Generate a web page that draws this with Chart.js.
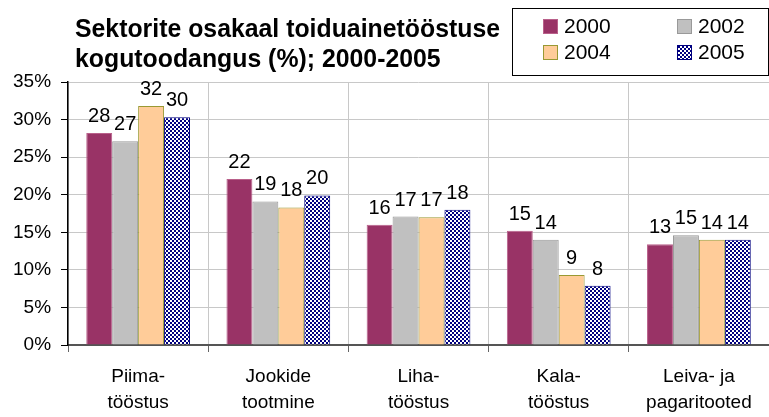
<!DOCTYPE html>
<html>
<head>
<meta charset="utf-8">
<script src="https://cdn.jsdelivr.net/npm/chart.js@4"></script>
<style>
  html, body { margin: 0; padding: 0; background: #fff; }
  #wrap { width: 769px; height: 417px; }
</style>
</head>
<body>
<div id="wrap"><canvas id="myChart" width="769" height="417"></canvas></div>
<script>
// andmed
const kategooriad = [["Piima-", "tööstus"], ["Jookide", "tootmine"], ["Liha-", "tööstus"], ["Kala-", "tööstus"], ["Leiva- ja", "pagaritooted"]];
const aastad = ["2000", "2002", "2004", "2005"];
const v2000 = [28.2, 22.1, 16.0, 15.2, 13.4];
const v2002 = [27.1, 19.1, 17.1, 14.0, 14.6];
const v2004 = [31.8, 18.3, 17.0, 9.3, 14.0];
const v2005 = [30.3, 19.9, 18.0, 7.9, 14.0];
const yMax = 35;
const yStep = 5;
const pealkiri = ["Sektorite osakaal toiduainetööstuse", "kogutoodangus (%); 2000-2005"];

Chart.defaults.font.family = "'Liberation Sans', Arial, sans-serif";
Chart.defaults.color = "#000";

// ruuduline muster 2005 jaoks
function ruuduMuster() {
  const c = document.createElement("canvas");
  c.width = 4; c.height = 4;
  const g = c.getContext("2d");
  g.fillStyle = "#fff";
  g.fillRect(0, 0, 4, 4);
  g.fillStyle = "#000080";
  g.fillRect(0, 0, 2, 2);
  g.fillRect(2, 2, 2, 2);
  return g.createPattern(c, "repeat");
}

const ctx = document.getElementById("myChart").getContext("2d");
const muster = ruuduMuster();

const pealkiriPlugin = {
  id: "pealkiri",
  afterDraw(chart) {
    const c = chart.ctx;
    c.save();
    c.font = "bold 24px 'Liberation Sans', Arial, sans-serif";
    c.fillStyle = "#000";
    c.textBaseline = "alphabetic";
    const w = c.measureText(pealkiri[0]).width;
    c.translate(75, 0);
    c.scale(425 / w, 1.05);
    c.fillText(pealkiri[0], 0, 35);
    c.fillText(pealkiri[1], 0, 64);
    c.restore();
  }
};

const legendPlugin = {
  id: "kast",
  afterDraw(chart) {
    const c = chart.ctx;
    c.save();
    c.strokeStyle = "#000";
    c.lineWidth = 1;
    c.strokeRect(512.5, 8.5, 256, 67);
    const xs = [543, 677];
    const ys = [26.5, 52.5];
    c.font = "21px 'Liberation Sans', Arial, sans-serif";
    c.textBaseline = "middle";
    chart.data.datasets.forEach((ds, i) => {
      const x = xs[i % 2], y = ys[Math.floor(i / 2)];
      c.fillStyle = ds.backgroundColor;
      c.fillRect(x, y - 7.5, 15, 15);
      c.strokeStyle = ds.borderColor;
      c.strokeRect(x + 0.5, y - 7, 14, 14);
      c.fillStyle = "#000";
      c.fillText(ds.label, x + 21, y + 1);
    });
    c.restore();
  }
};

const siltPlugin = {
  id: "sildid",
  afterDatasetsDraw(chart) {
    const c = chart.ctx;
    c.save();
    c.font = "20px 'Liberation Sans', Arial, sans-serif";
    c.fillStyle = "#000";
    c.textAlign = "center";
    c.textBaseline = "alphabetic";
    chart.data.datasets.forEach((ds, i) => {
      chart.getDatasetMeta(i).data.forEach((bar, j) => {
        c.fillText(Math.round(ds.data[j]), bar.x, bar.y - 11);
      });
    });
    c.restore();
  }
};

var myChart = new Chart(ctx, {
  type: "bar",
  data: {
    labels: kategooriad,
    datasets: [
      { label: aastad[0], data: v2000, backgroundColor: "#993366", borderColor: "#b9608a", borderWidth: 1 },
      { label: aastad[1], data: v2002, backgroundColor: "#c0c0c0", borderColor: "#999999", borderWidth: 1 },
      { label: aastad[2], data: v2004, backgroundColor: "#ffcc99", borderColor: "#999933", borderWidth: 1 },
      { label: aastad[3], data: v2005, backgroundColor: muster, borderColor: "#000080", borderWidth: 1 }
    ]
  },
  options: {
    responsive: false,
    animation: false,
    categoryPercentage: 0.74,
    barPercentage: 1.0,
    layout: { padding: { top: 82, left: 3, right: 0, bottom: 0 } },
    plugins: {
      legend: { display: false },
      title: { display: false },
      tooltip: { enabled: false }
    },
    scales: {
      x: {
        grid: { color: "#c8c8c8", tickColor: "#666", tickLength: 7, offset: true },
        border: { color: "#555", width: 2 },
        ticks: { font: { size: 19, lineHeight: 1.4 }, padding: 11, color: "#000" },
        afterFit: (scale) => { scale.height = 72; }
      },
      y: {
        min: 0,
        max: yMax,
        ticks: { stepSize: yStep, callback: (v) => v + "%", font: { size: 19 }, padding: 10, color: "#000" },
        grid: { color: "#c8c8c8", tickColor: "#000", tickLength: 7 },
        border: { color: "#000", width: 1.5 }
      }
    }
  },
  plugins: [siltPlugin, pealkiriPlugin, legendPlugin]
});
</script>
</body>
</html>
